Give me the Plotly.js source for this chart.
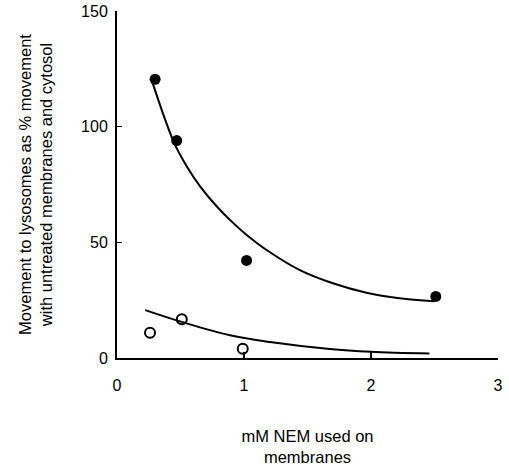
<!DOCTYPE html>
<html>
<head>
<meta charset="utf-8">
<script src="https://cdn.plot.ly/plotly-3.0.1.min.js"></script>
<style>html,body{margin:0;padding:0;background:#fff;}#chart{width:509px;height:466px;}</style>
</head>
<body>
<div id="chart"></div>
<script>
// Data
var filledX = [0.30, 0.47, 1.02, 2.51];
var filledY = [120.5, 94.0, 42.2, 26.6];
var openX = [0.26, 0.51, 0.99, 2.50];
var openY = [10.9, 16.8, 4.0, -0.6];

// Fitted curves, points
var filledCurveX = [0.283, 0.45, 0.55, 0.654, 0.786, 0.916, 1.021, 1.178, 1.44, 1.70, 1.964, 2.225, 2.50];
var filledCurveY = [118.5, 93.0, 82.8, 74.2, 65.5, 58.3, 53.2, 46.7, 38.0, 32.3, 28.2, 25.8, 24.5];
var openCurveX = [0.222, 0.51, 0.89, 1.204, 1.675, 2.0, 2.46];
var openCurveY = [20.7, 15.6, 9.8, 6.9, 3.9, 2.7, 1.9];

var xTickVals = [0, 1, 2, 3];
var yTickVals = [0, 50, 100, 150];

var FONT = 'Liberation Sans, Arial, Helvetica, sans-serif';

var traces = [
  {x: filledCurveX, y: filledCurveY, mode: 'lines', line: {color: '#000', width: 2, shape: 'spline'}, hoverinfo: 'skip', cliponaxis: false},
  {x: openCurveX, y: openCurveY, mode: 'lines', line: {color: '#000', width: 2, shape: 'spline'}, hoverinfo: 'skip', cliponaxis: false},
  {x: filledX, y: filledY, mode: 'markers', marker: {symbol: 'circle', size: 11, color: '#000'}, cliponaxis: false},
  {x: openX, y: openY, mode: 'markers', marker: {symbol: 'circle-open', size: 10, color: '#000', line: {width: 2, color: '#000'}}, cliponaxis: false}
];

var layout = {
  width: 509, height: 466,
  margin: {l: 117, r: 11, t: 11, b: 108},
  paper_bgcolor: '#fff', plot_bgcolor: '#fff',
  showlegend: false,
  font: {family: FONT, size: 16, color: '#000'},
  xaxis: {
    range: [0, 3], tickvals: xTickVals, ticktext: xTickVals.map(String),
    showgrid: false, zeroline: false, showline: true, linecolor: '#000', linewidth: 2,
    ticks: 'inside', ticklen: 6, tickwidth: 1.5, tickcolor: '#000',
    ticklabelstandoff: 12,
    tickfont: {family: FONT, size: 16, color: '#000'},
    title: {text: 'mM NEM used on<br>membranes', font: {family: FONT, size: 16.5, color: '#000'}, standoff: 38}
  },
  yaxis: {
    range: [0, 150], tickvals: yTickVals, ticktext: yTickVals.map(String),
    showgrid: false, zeroline: false, showline: true, linecolor: '#000', linewidth: 2,
    ticks: 'inside', ticklen: 5, tickwidth: 1.5, tickcolor: '#000',
    ticklabelstandoff: 4,
    tickfont: {family: FONT, size: 16, color: '#000'},
    title: {text: 'Movement to lysosomes as % movement<br>with untreated membranes and cytosol', font: {family: FONT, size: 16.5, color: '#000'}, standoff: 24}
  }
};

Plotly.newPlot('chart', traces, layout, {displayModeBar: false, staticPlot: true});
</script>
</body>
</html>
